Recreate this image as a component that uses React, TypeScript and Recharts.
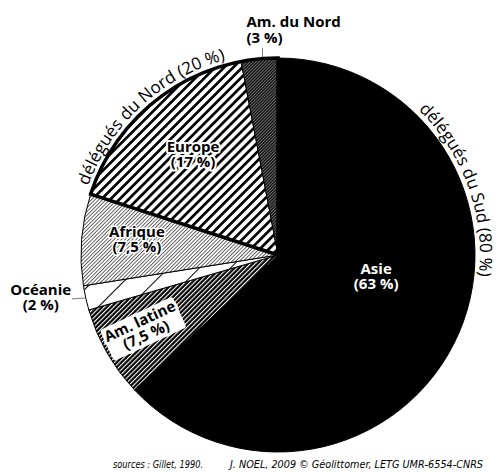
import React from 'react';
import { PieChart, Pie, Cell } from 'recharts';

// ---- data ----
const regions = ['Asie', 'Am. latine', 'Océanie', 'Afrique', 'Europe', 'Am. du Nord'];
const shares = [63, 7.5, 2, 7.5, 17, 3];
const shareLabels = ['(63 %)', '(7,5 %)', '(2 %)', '(7,5 %)', '(17 %)', '(3 %)'];
const groups = ['délégués du Sud', 'délégués du Nord'];
const groupShares = [80, 20];
const groupLabels = ['(80 %)', '(20 %)'];
const sourceText = 'sources : Gillet, 1990.';
const creditText = 'J. NOEL, 2009 © Géolittomer, LETG UMR-6554-CNRS';

const data = regions.map((name, i) => ({ name, value: shares[i], pct: shareLabels[i] }));
const groupData = groups.map((name, i) => ({ name, value: groupShares[i], pct: groupLabels[i] }));

// ---- styles ----
const fills: Record<string, string> = {
  'Asie': '#000',
  'Am. latine': 'url(#pLatine)',
  'Océanie': 'url(#pOceanie)',
  'Afrique': 'url(#pAfrique)',
  'Europe': 'url(#pEurope)',
  'Am. du Nord': 'url(#pNord)',
};

type LS = { kind: string; r?: number; shift?: number; color?: string; halo?: number; rotate?: number; box?: boolean };
const labelStyles: Record<string, LS> = {
  'Asie': { kind: 'inside', r: 0.51, shift: 11, color: '#fff', halo: 0 },
  'Am. latine': { kind: 'inside', r: 0.78, shift: -1, color: '#000', halo: 6, rotate: -25, box: true },
  'Océanie': { kind: 'left' },
  'Afrique': { kind: 'inside', r: 0.72, shift: -1.5, color: '#000', halo: 3 },
  'Europe': { kind: 'inside', r: 0.665, shift: -1, color: '#000', halo: 4 },
  'Am. du Nord': { kind: 'top' },
};
const arcStartDeg = [44, 2];

const RAD = Math.PI / 180;
const polar = (cx: number, cy: number, r: number, a: number) => ({
  x: cx + r * Math.cos(-a * RAD),
  y: cy + r * Math.sin(-a * RAD),
});
const boldFont = { fontFamily: '"Open Sans", "Noto Sans", sans-serif', fontWeight: 700, fontSize: 15 };
const footFont = { fontFamily: '"Liberation Sans Narrow", "DejaVu Sans Condensed", sans-serif', fontStyle: 'italic', fontSize: 10.5 };

const renderRegionLabel = (props: any) => {
  const { cx, cy, outerRadius, midAngle, name, index } = props;
  const pct = shareLabels[index];
  const st = labelStyles[name];
  if (!st) return null;
  if (st.kind === 'inside') {
    const c = polar(cx, cy, (st.r || 0.5) * outerRadius, midAngle + (st.shift || 0));
    const halo = st.halo || 0;
    const common = {
      textAnchor: 'middle' as const,
      fill: st.color,
      stroke: halo ? '#fff' : 'none',
      strokeWidth: halo,
      strokeLinejoin: 'round' as const,
      paintOrder: 'stroke',
      style: boldFont,
    };
    return (
      <g transform={st.rotate ? `rotate(${st.rotate}, ${c.x}, ${c.y})` : undefined}>
        {st.box && <rect x={c.x - 40} y={c.y - 17} width={80} height={34} rx={3} fill="#fff" />}
        <text x={c.x} y={c.y - 3} {...common}>{name}</text>
        <text x={c.x} y={c.y + 12} {...common}>{pct}</text>
      </g>
    );
  }
  const p = polar(cx, cy, outerRadius, midAngle);
  if (st.kind === 'left') {
    return (
      <g>
        <line x1={p.x - 1} y1={p.y} x2={p.x - 14} y2={p.y + 1} stroke="#555" strokeWidth={0.8} />
        <text x={p.x - 45} y={p.y - 3} textAnchor="middle" fill="#000" style={boldFont}>{name}</text>
        <text x={p.x - 45} y={p.y + 12} textAnchor="middle" fill="#000" style={boldFont}>{pct}</text>
      </g>
    );
  }
  // top
  return (
    <g>
      <line x1={p.x + 3} y1={p.y - 2} x2={p.x + 3} y2={p.y - 11} stroke="#555" strokeWidth={0.8} />
      <text x={p.x - 13} y={p.y - 32} textAnchor="start" fill="#000" style={boldFont}>{name}</text>
      <text x={p.x - 13} y={p.y - 16} textAnchor="start" fill="#000" style={boldFont}>{pct}</text>
    </g>
  );
};

const renderGroupLabel = (props: any) => {
  const { cx, cy, outerRadius, startAngle, endAngle, index } = props;
  const r = outerRadius + 5;
  const s = polar(cx, cy, r, startAngle);
  const e = polar(cx, cy, r, endAngle);
  const large = Math.abs(startAngle - endAngle) > 180 ? 1 : 0;
  const sweep = startAngle > endAngle ? 1 : 0;
  const id = `grp-arc-${index}`;
  const off = arcStartDeg[index] * RAD * r;
  return (
    <g>
      <path id={id} d={`M${s.x},${s.y} A${r},${r} 0 ${large} ${sweep} ${e.x},${e.y}`} fill="none" stroke="none" />
      <text fill="#000" style={{ fontFamily: '"Open Sans", "Noto Sans", sans-serif', fontSize: 17 }}>
        <textPath href={`#${id}`} startOffset={off}>
          {groups[index]} {groupLabels[index]}
        </textPath>
      </text>
    </g>
  );
};

export default function App() {
  return (
    <div style={{ position: 'absolute', left: 0, top: 0, width: 498, height: 472, background: '#fff' }}>
      <PieChart width={498} height={472} margin={{ top: 0, right: 0, bottom: 0, left: 0 }}>
        <defs>
          <pattern id="pEurope" patternUnits="userSpaceOnUse" width={6.4} height={10} patternTransform="rotate(45)">
            <rect x={0} y={0} width={6.4} height={10} fill="#fff" />
            <rect x={0} y={0} width={2.7} height={10} fill="#000" />
          </pattern>
          <pattern id="pAfrique" patternUnits="userSpaceOnUse" width={2.6} height={10} patternTransform="rotate(45)">
            <rect x={0} y={0} width={2.6} height={10} fill="#fff" />
            <rect x={0} y={0} width={0.9} height={10} fill="#555" />
          </pattern>
          <pattern id="pLatine" patternUnits="userSpaceOnUse" width={3.3} height={10} patternTransform="rotate(45)">
            <rect x={0} y={0} width={3.3} height={10} fill="#000" />
            <rect x={0} y={0} width={1.1} height={10} fill="#fff" />
          </pattern>
          <pattern id="pOceanie" patternUnits="userSpaceOnUse" width={22} height={10} patternTransform="rotate(45)">
            <rect x={0} y={0} width={22} height={10} fill="#fff" />
            <rect x={0} y={0} width={1} height={10} fill="#000" />
          </pattern>
          <pattern id="pNord" patternUnits="userSpaceOnUse" width={2.2} height={10} patternTransform="rotate(45)">
            <rect x={0} y={0} width={2.2} height={10} fill="#1a1a1a" />
            <rect x={0} y={0} width={0.7} height={10} fill="#777" />
          </pattern>
        </defs>
        <Pie
          data={data}
          dataKey="value"
          nameKey="name"
          cx={278}
          cy={255}
          outerRadius={197}
          startAngle={90}
          endAngle={-270}
          isAnimationActive={false}
          labelLine={false}
          label={renderRegionLabel}
        >
          {data.map((d) => (
            <Cell key={d.name} fill={fills[d.name]} stroke="#000" strokeWidth={1} />
          ))}
        </Pie>
        <Pie
          data={groupData}
          dataKey="value"
          nameKey="name"
          cx={278}
          cy={255}
          outerRadius={197}
          startAngle={90}
          endAngle={-270}
          isAnimationActive={false}
          labelLine={false}
          label={renderGroupLabel}
        >
          {groupData.map((d, i) => (
            <Cell key={d.name} fill="none" stroke={i === 1 ? '#000' : 'none'} strokeWidth={i === 1 ? 3.5 : 0} />
          ))}
        </Pie>
        <text x={113} y={468} fill="#000" textLength={90} lengthAdjust="spacingAndGlyphs" style={footFont}>
          {sourceText}
        </text>
        <text x={230} y={468} fill="#000" textLength={253} lengthAdjust="spacingAndGlyphs" style={footFont}>
          {creditText}
        </text>
      </PieChart>
    </div>
  );
}
